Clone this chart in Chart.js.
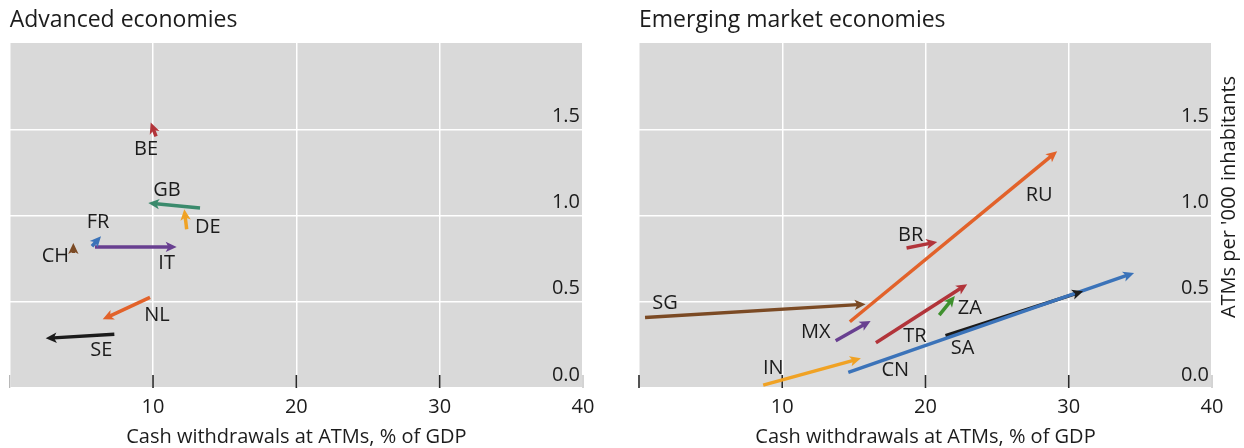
<!DOCTYPE html>
<html>
<head>
<meta charset="utf-8">
<script src="https://cdn.jsdelivr.net/npm/chart.js@4.4.1/dist/chart.umd.min.js"></script>
<style>
  html, body { margin: 0; padding: 0; background: #ffffff; }
  body { width: 1244px; height: 448px; position: relative; overflow: hidden; }
  .panel { position: absolute; top: 0; height: 448px; }
  #advWrap { left: 0; width: 620px; }
  #emeWrap { left: 620px; width: 624px; }
</style>
</head>
<body>
<div class="panel" id="advWrap"><canvas id="advChart" width="620" height="448"></canvas></div>
<div class="panel" id="emeWrap"><canvas id="emeChart" width="624" height="448"></canvas></div>
<script>
// ---- Advanced economies: cash withdrawals (% of GDP) and ATMs per '000 inhabitants, start -> end
const advCodes    = ['BE', 'GB', 'DE', 'FR', 'CH', 'IT', 'NL', 'SE'];
const advCashFrom = [10.21, 13.28, 12.35, 5.74, 4.44, 5.95, 9.79, 7.30];
const advCashTo   = [ 9.84,  9.67, 12.18, 6.37, 4.44, 11.65, 6.49, 2.51];
const advAtmFrom  = [1.458, 1.043, 0.920, 0.822, 0.783, 0.818, 0.525, 0.311];
const advAtmTo    = [1.539, 1.072, 1.036, 0.880, 0.841, 0.818, 0.398, 0.288];

// ---- Emerging market economies
const emeCodes    = ['RU', 'SG', 'BR', 'MX', 'TR', 'ZA', 'IN', 'CN', 'SA'];
const emeCashFrom = [14.72, 0.42, 18.68, 13.73, 16.54, 20.96, 8.67, 14.61, 21.40];
const emeCashTo   = [29.19, 15.82, 20.82, 16.17, 22.91, 22.05, 15.49, 34.56, 31.00];
const emeAtmFrom  = [0.384, 0.409, 0.812, 0.274, 0.262, 0.422, 0.017, 0.091, 0.303];
const emeAtmTo    = [1.372, 0.486, 0.847, 0.389, 0.602, 0.534, 0.172, 0.667, 0.561];

// ---- Axis ticks
const xTickValues = [0, 10, 20, 30, 40];
const yTickValues = [0, 0.5, 1.0, 1.5];

const xTitle = 'Cash withdrawals at ATMs, % of GDP';
const yTitle = "ATMs per '000 inhabitants";

// ---- Styling
const FONT = "'Open Sans', 'Noto Sans', sans-serif";
const TEXT = '#1c1c1c';
const PLOT_BG = '#d9d9d9';

const palette = {
  red: '#b2343a', teal: '#3a8a6c', amber: '#f0a224', blue: '#3b73b9',
  brown: '#7b4a24', purple: '#683f90', orange: '#e2622a', black: '#1b1b1b', green: '#3f902e'
};
const advColors = {
  BE: palette.red, GB: palette.teal, DE: palette.amber, FR: palette.blue,
  CH: palette.brown, IT: palette.purple, NL: palette.orange, SE: palette.black
};
const emeColors = {
  RU: palette.orange, SG: palette.brown, BR: palette.red, MX: palette.purple, TR: palette.red,
  ZA: palette.green, IN: palette.amber, CN: palette.blue, SA: palette.black
};

// label placement: pixel offset from the arrow's tail ('from') or head ('to')
const advLabelPlace = {
  BE: ['from', -10, 13], GB: ['from', -33, -18], DE: ['from', 21, -2], FR: ['from', 6, -24],
  CH: ['from', -18, 3], IT: ['to', -10, 16], NL: ['from', 7, 18], SE: ['from', -13, 16]
};
const emeLabelPlace = {
  RU: ['to', -18, 44], SG: ['from', 20, -14], BR: ['from', 4, -13], MX: ['from', -20, -8],
  TR: ['from', 39, -7], ZA: ['to', 15, 12], SA: ['from', 17, 13], IN: ['from', 10, -17],
  CN: ['from', 47, -2]
};

const HEAD_LEN = 11;
const HEAD_HALF = 5.2;

function px(chart, x, y) {
  return [chart.scales.x.getPixelForValue(x), chart.scales.y.getPixelForValue(y)];
}

const panelPlugin = {
  id: 'panelDecor',
  beforeDraw(chart) {
    const { ctx, chartArea: a } = chart;
    ctx.save();
    ctx.fillStyle = PLOT_BG;
    ctx.fillRect(a.left, a.top, a.right - a.left, a.bottom - a.top);
    ctx.restore();
  },
  beforeDatasetsDraw(chart) {
    const { ctx, chartArea: a } = chart;
    const o = chart.options.plugins.panelDecor;
    // short tick marks rising from the bottom edge
    ctx.save();
    xTickValues.forEach(v => {
      const x = chart.scales.x.getPixelForValue(v);
      const edge = (v === xTickValues[0] && !o.darkFirstTick) || v === xTickValues[xTickValues.length - 1];
      ctx.strokeStyle = edge ? '#a8a8a8' : '#2a2a2a';
      ctx.lineWidth = edge ? 1 : 1.6;
      ctx.beginPath();
      ctx.moveTo(x, a.bottom);
      ctx.lineTo(x, a.bottom - 13);
      ctx.stroke();
    });
    ctx.restore();
    // pull each line end back so the arrowhead tip stays sharp
    chart.data.datasets.forEach((ds, i) => {
      const meta = chart.getDatasetMeta(i);
      const p0 = px(chart, ds.data[0].x, ds.data[0].y);
      const p1 = px(chart, ds.data[1].x, ds.data[1].y);
      const dx = p1[0] - p0[0], dy = p1[1] - p0[1];
      const len = Math.hypot(dx, dy) || 1;
      const back = Math.min(HEAD_LEN * 0.7, len);
      const end = meta.data[1];
      end.x = p1[0] - dx / len * back;
      end.y = p1[1] - dy / len * back;
    });
  },
  afterDatasetsDraw(chart) {
    const { ctx } = chart;
    const o = chart.options.plugins.panelDecor;
    chart.data.datasets.forEach(ds => {
      const p0 = px(chart, ds.data[0].x, ds.data[0].y);
      const p1 = px(chart, ds.data[1].x, ds.data[1].y);
      let dx = p1[0] - p0[0], dy = p1[1] - p0[1];
      const len = Math.hypot(dx, dy) || 1;
      dx /= len; dy /= len;
      const nx = -dy, ny = dx;
      const bx = p1[0] - dx * HEAD_LEN, by = p1[1] - dy * HEAD_LEN;
      const mx = p1[0] - dx * HEAD_LEN * 0.75, my = p1[1] - dy * HEAD_LEN * 0.75;
      ctx.save();
      ctx.fillStyle = ds.borderColor;
      ctx.beginPath();
      ctx.moveTo(p1[0], p1[1]);
      ctx.lineTo(bx + nx * HEAD_HALF, by + ny * HEAD_HALF);
      ctx.lineTo(mx, my);
      ctx.lineTo(bx - nx * HEAD_HALF, by - ny * HEAD_HALF);
      ctx.closePath();
      ctx.fill();
      ctx.restore();

      // country code
      const place = o.labels[ds.label];
      const anchor = place[0] === 'to' ? p1 : p0;
      ctx.save();
      ctx.font = `20px ${FONT}`;
      ctx.fillStyle = TEXT;
      ctx.textAlign = 'center';
      ctx.textBaseline = 'middle';
      ctx.fillText(ds.label, anchor[0] + place[1], anchor[1] + place[2]);
      ctx.restore();
    });
  },
  afterDraw(chart) {
    const o = chart.options.plugins.panelDecor;
    if (!o.yTitle) return;
    const { ctx, chartArea: a } = chart;
    ctx.save();
    ctx.translate(a.right + 17, a.top + 154);
    ctx.rotate(-Math.PI / 2);
    ctx.font = `20px ${FONT}`;
    ctx.fillStyle = TEXT;
    ctx.textAlign = 'center';
    ctx.textBaseline = 'middle';
    ctx.fillText(o.yTitle, 0, 0);
    ctx.restore();
  }
};

function buildPanel(canvasId, title, codes, cashFrom, cashTo, atmFrom, atmTo, colors, labels, layout) {
  const datasets = codes.map((c, i) => ({
    label: c,
    data: [{ x: cashFrom[i], y: atmFrom[i] }, { x: cashTo[i], y: atmTo[i] }],
    showLine: true,
    borderColor: colors[c],
    backgroundColor: colors[c],
    borderWidth: 3.5,
    borderCapStyle: 'butt',
    pointRadius: 0,
    pointHoverRadius: 0,
    tension: 0
  }));
  return new Chart(document.getElementById(canvasId), {
    type: 'scatter',
    data: { datasets },
    options: {
      responsive: false,
      animation: false,
      events: [],
      layout: { padding: { left: layout.left, right: layout.right, top: 0, bottom: 0 } },
      plugins: {
        legend: { display: false },
        tooltip: { enabled: false },
        title: {
          display: true, text: title, align: 'start', color: TEXT,
          font: { family: FONT, size: 23, weight: 'normal', lineHeight: 1.2 },
          padding: { top: 7, bottom: 8.4 }
        },
        panelDecor: { labels, yTitle: layout.yTitle, darkFirstTick: layout.darkFirstTick }
      },
      scales: {
        x: {
          type: 'linear', min: 0, max: 40,
          afterBuildTicks: s => { s.ticks = xTickValues.map(v => ({ value: v })); },
          ticks: {
            callback: v => (v === 0 ? '' : String(v)),
            color: TEXT, font: { family: FONT, size: 20 }, padding: 7,
            maxRotation: 0, autoSkip: false
          },
          grid: { color: '#ffffff', lineWidth: 1.5, drawTicks: false },
          border: { display: false },
          title: {
            display: true, text: xTitle, color: TEXT,
            font: { family: FONT, size: 20, lineHeight: 1.2 }, padding: { top: 0, bottom: -1 }
          },
          afterFit: s => { s.height = 60; }
        },
        y: {
          type: 'linear', position: 'right', min: 0, max: 2,
          afterBuildTicks: s => { s.ticks = yTickValues.map(v => ({ value: v })); },
          ticks: {
            mirror: true, padding: -3, labelOffset: -13,
            callback: v => Number(v).toFixed(1),
            color: TEXT, font: { family: FONT, size: 20 }, autoSkip: false
          },
          grid: { color: '#ffffff', lineWidth: 1.5, drawTicks: false },
          border: { display: false },
          afterFit: s => { s.width = layout.yWidth; }
        }
      }
    },
    plugins: [panelPlugin]
  });
}

buildPanel('advChart', 'Advanced economies', advCodes, advCashFrom, advCashTo, advAtmFrom, advAtmTo,
  advColors, advLabelPlace, { left: 9.7, right: 37, yWidth: 0, yTitle: null, darkFirstTick: false });
buildPanel('emeChart', 'Emerging market economies', emeCodes, emeCashFrom, emeCashTo, emeAtmFrom, emeAtmTo,
  emeColors, emeLabelPlace, { left: 19, right: 0, yWidth: 32, yTitle: yTitle, darkFirstTick: true });
</script>
</body>
</html>
